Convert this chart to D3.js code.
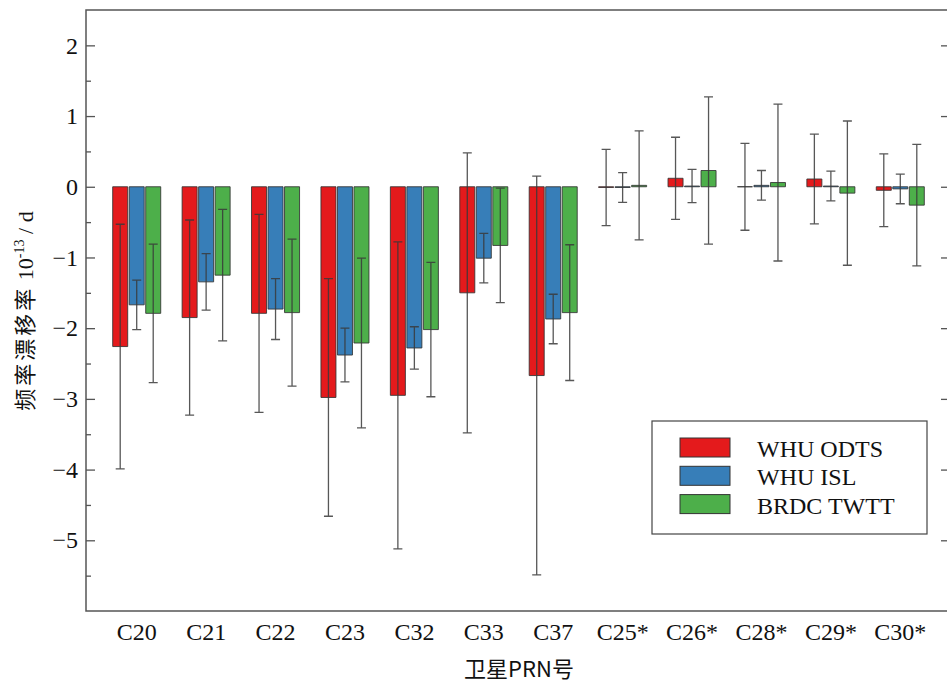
<!DOCTYPE html>
<html>
<head>
<meta charset="utf-8">
<script src="https://cdn.jsdelivr.net/npm/d3@7/dist/d3.min.js"></script>
<style>
  html, body { margin: 0; padding: 0; background: #ffffff; overflow: hidden; }
  svg { display: block; }
  text { font-family: "Liberation Serif", "DejaVu Serif", serif; fill: #111; }
</style>
</head>
<body>
<svg id="chart" width="947" height="682"></svg>
<script>
// Satellites (PRN) shown along the x axis
const categories = ["C20", "C21", "C22", "C23", "C32", "C33", "C37", "C25*", "C26*", "C28*", "C29*", "C30*"];

// Series names and colours
const seriesNames = ["WHU ODTS", "WHU ISL", "BRDC TWTT"];
const seriesColors = ["#e41a1c", "#377eb8", "#4daf4a"];

// Frequency drift rate (1e-13 / d), mean and error half-width per satellite
const odtsValues = [-2.26, -1.85, -1.79, -2.98, -2.95, -1.50, -2.67, -0.01, 0.12, 0.00, 0.11, -0.05];
const odtsErrors = [1.73, 1.38, 1.40, 1.68, 2.17, 1.98, 2.82, 0.54, 0.58, 0.615, 0.635, 0.515];
const islValues  = [-1.67, -1.345, -1.73, -2.38, -2.28, -1.01, -1.87, -0.01, 0.01, 0.02, 0.01, -0.03];
const islErrors  = [0.35, 0.40, 0.43, 0.38, 0.30, 0.35, 0.35, 0.21, 0.235, 0.21, 0.21, 0.21];
const twttValues = [-1.79, -1.25, -1.78, -2.21, -2.02, -0.83, -1.78, 0.02, 0.23, 0.06, -0.09, -0.26];
const twttErrors = [0.98, 0.93, 1.04, 1.20, 0.95, 0.81, 0.96, 0.77, 1.04, 1.11, 1.02, 0.86];

// Axis ticks
const yMajorTicks = [-5, -4, -3, -2, -1, 0, 1, 2];
const yMinorTicks = [-5.5, -4.5, -3.5, -2.5, -1.5, -0.5, 0.5, 1.5];

const seriesValues = [odtsValues, islValues, twttValues];
const seriesErrors = [odtsErrors, islErrors, twttErrors];

const SERIF = "'Liberation Serif', 'DejaVu Serif', serif";
const CJK = "'Noto Sans CJK SC', 'Noto Sans CJK JP', sans-serif";

const svg = d3.select("#chart");
// the right frame edge sits just past the drawing area
const plot = { left: 86, right: 949, top: 10, bottom: 611 };

const y = d3.scaleLinear().domain([-6, 2.5]).range([plot.bottom, plot.top]);
const x = d3.scaleBand().domain(categories).range([102, 935]).paddingInner(0).paddingOuter(0);
const xSub = d3.scaleBand().domain(seriesNames).range([0, x.bandwidth()])
  .paddingInner(0.09).paddingOuter(0.648);

// Bars and error bars
const rows = [];
categories.forEach((c, i) => {
  seriesNames.forEach((s, k) => {
    rows.push({ cat: c, series: s, k, value: seriesValues[k][i], err: seriesErrors[k][i] });
  });
});

const barG = svg.append("g");
barG.selectAll("path.bar").data(rows).join("path")
  .attr("class", "bar")
  .attr("d", d => {
    const x0 = x(d.cat) + xSub(d.series);
    const x1 = x0 + xSub.bandwidth();
    const y0 = y(0), y1 = y(d.value);
    return `M${x0},${y0}H${x1}V${y1}H${x0}Z`;
  })
  .attr("fill", d => seriesColors[d.k])
  .attr("stroke", "#333")
  .attr("stroke-opacity", 0.85)
  .attr("stroke-width", 1);

const errG = svg.append("g")
  .attr("stroke", "#3a3a3a")
  .attr("stroke-opacity", 0.85)
  .attr("stroke-width", 1.3)
  .attr("fill", "none");
const capHalf = 4.5;
errG.selectAll("path.err").data(rows).join("path")
  .attr("class", "err")
  .attr("d", d => {
    const cx = x(d.cat) + xSub(d.series) + xSub.bandwidth() / 2;
    const yt = y(d.value + d.err), yb = y(d.value - d.err);
    return `M${cx},${yt}V${yb}M${cx - capHalf},${yt}H${cx + capHalf}M${cx - capHalf},${yb}H${cx + capHalf}`;
  });

// Frame
svg.append("rect")
  .attr("x", plot.left).attr("y", plot.top)
  .attr("width", plot.right - plot.left).attr("height", plot.bottom - plot.top)
  .attr("fill", "none").attr("stroke", "#555").attr("stroke-width", 1.5);

// Left axis: major ticks with labels, minor ticks without
const yAxisMajor = d3.axisLeft(y).tickValues(yMajorTicks).tickSizeInner(-9).tickSizeOuter(0).tickPadding(8);
const gy = svg.append("g").attr("transform", `translate(${plot.left},0)`).call(yAxisMajor)
  .attr("font-family", SERIF).attr("font-size", 24);
gy.select(".domain").remove();
gy.selectAll(".tick line").attr("stroke", "#555").attr("stroke-width", 1.3);
gy.selectAll(".tick text")
  .style("font-family", SERIF)
  .style("font-size", "24px").attr("fill", "#222");

const gyMinor = svg.append("g").attr("transform", `translate(${plot.left},0)`)
  .call(d3.axisLeft(y).tickValues(yMinorTicks).tickSizeInner(-5).tickSizeOuter(0).tickFormat(""));
gyMinor.select(".domain").remove();
gyMinor.selectAll(".tick line").attr("stroke", "#555").attr("stroke-width", 1.3);

// Right axis ticks (inward, no labels)
const gr = svg.append("g").attr("transform", `translate(${plot.right},0)`)
  .call(d3.axisRight(y).tickValues(yMajorTicks).tickSizeInner(-8).tickSizeOuter(0).tickFormat(""));
gr.select(".domain").remove();
gr.selectAll(".tick line").attr("stroke", "#555").attr("stroke-width", 1.3);

// Bottom axis labels
const gx = svg.append("g").attr("transform", `translate(0,${plot.bottom})`)
  .call(d3.axisBottom(x).tickSize(0).tickPadding(12))
  .attr("font-family", SERIF).attr("font-size", 24);
gx.select(".domain").remove();
gx.selectAll(".tick text")
  .style("font-family", SERIF)
  .style("font-size", "24px").attr("fill", "#222");

// Axis titles
svg.append("text")
  .attr("x", 519).attr("y", 677)
  .attr("text-anchor", "middle")
  .style("font-family", CJK)
  .style("font-size", "22px").attr("fill", "#222")
  .text("卫星PRN号");

const yTitle = svg.append("text")
  .attr("transform", "translate(33,311) rotate(-90)")
  .attr("text-anchor", "middle")
  .style("font-family", CJK)
  .style("font-size", "22px").attr("fill", "#222");
yTitle.append("tspan").style("letter-spacing", "3px").text("频率漂移率");
yTitle.append("tspan").style("font-family", SERIF).text(" 10");
yTitle.append("tspan").attr("dy", -9).style("font-size", "14px")
  .style("font-family", SERIF).text("-13");
yTitle.append("tspan").attr("dy", 9).style("font-family", SERIF).text(" / d");

// Legend
const legend = svg.append("g");
legend.append("rect")
  .attr("x", 652).attr("y", 421).attr("width", 275).attr("height", 113)
  .attr("fill", "#fff").attr("stroke", "#444").attr("stroke-width", 1.2);
seriesNames.forEach((s, k) => {
  const ly = 438 + k * 28.3;
  legend.append("rect")
    .attr("x", 680).attr("y", ly).attr("width", 50).attr("height", 19)
    .attr("fill", seriesColors[k]).attr("stroke", "#333").attr("stroke-width", 1);
  legend.append("text")
    .attr("x", 757).attr("y", ly + 19)
    .style("font-family", SERIF)
    .style("font-size", "24px").attr("fill", "#111")
    .text(s);
});
</script>
</body>
</html>
